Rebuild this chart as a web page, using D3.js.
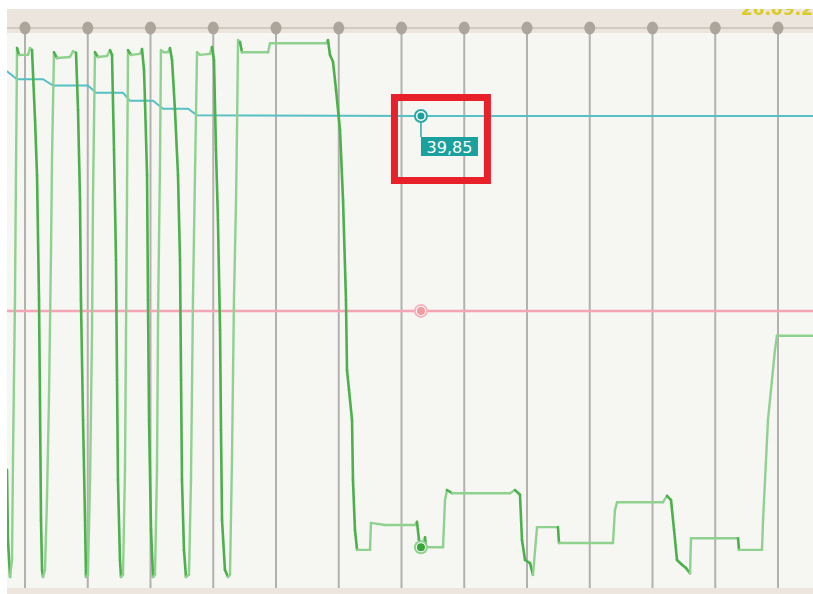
<!DOCTYPE html>
<html lang="en">
    <head>
        <meta charset="utf-8">
        <title>Trend</title>
        <script src="https://d3js.org/d3.v7.min.js"></script>
        <style>
            body { margin: 0; background: #fff; }
        </style>
    </head>
    <body>
        <div id="chart"></div>
        <script>
            // time in minutes from the first hour mark
            var hourTicks = d3.range(0, 721, 60);
            var dateLabel = "26.09.2023";
            var cursorTime = 378.6;

            var cyanSeries = [
                [-17.2, 40.41], [-7.6, 40.31], [17.2, 40.31], [26.8, 40.23], [60.2, 40.23],
                [67.9, 40.14], [93.7, 40.14], [100.4, 40.04], [122.4, 40.04], [132.0, 39.94],
                [155.9, 39.94], [164.5, 39.86], [378.6, 39.85], [753.5, 39.85]
            ];

            var pinkSeries = [[-17.2, 50.4], [753.5, 50.4]];

            var greenSeries = [
                [-17.2, 20.4], [-16.3, 7.2], [-14.3, 0.2], [-12.4, 3.4], [-11.5, 22.3], [-9.6, 52.5],
                [-8.6, 77.0], [-7.6, 100.0], [-5.7, 98.7], [2.9, 98.7], [4.8, 100.0], [6.7, 99.6],
                [9.6, 86.4], [11.5, 76.0], [13.4, 52.5], [14.3, 33.6], [15.3, 10.9], [16.3, 1.5],
                [17.2, 0.2], [19.1, 1.5], [21.0, 14.7], [22.9, 33.6], [24.9, 61.9], [25.8, 78.9],
                [27.7, 99.2], [30.6, 98.1], [43.0, 98.3], [45.9, 99.4], [48.8, 99.1], [50.7, 88.3],
                [52.6, 71.3], [53.5, 52.5], [55.5, 29.8], [57.4, 10.9], [58.3, 0.2], [60.2, 0.6],
                [62.2, 18.5], [64.1, 46.8], [65.0, 71.3], [66.9, 99.2], [69.8, 98.3], [78.4, 98.5],
                [81.3, 99.6], [83.2, 98.7], [85.1, 80.8], [87.0, 60.0], [88.0, 37.4], [88.9, 18.5],
                [90.8, 3.4], [91.8, 0.2], [93.7, 0.6], [95.6, 20.4], [96.6, 46.8], [97.5, 71.3],
                [98.5, 99.6], [101.4, 98.7], [110.0, 98.9], [111.9, 99.8], [113.8, 95.8], [114.7, 90.2],
                [116.7, 76.0], [117.6, 52.5], [118.6, 29.8], [120.5, 9.1], [122.4, 0.2], [124.3, 0.6],
                [126.2, 20.4], [127.2, 48.7], [129.1, 78.9], [130.0, 99.6], [132.9, 99.2], [136.7, 99.2],
                [138.6, 100.0], [140.6, 97.7], [143.4, 88.3], [146.3, 76.0], [148.2, 60.0], [149.2, 37.4],
                [150.1, 18.5], [152.0, 5.3], [153.9, 0.2], [156.8, 0.6], [158.7, 18.5], [160.6, 52.5],
                [162.6, 77.0], [164.5, 99.2], [167.3, 98.7], [176.9, 98.9], [178.8, 100.2], [180.7, 97.7],
                [182.6, 80.8], [184.5, 67.5], [186.5, 46.8], [187.4, 27.9], [188.4, 10.9], [191.2, 1.5],
                [194.1, 0.2], [196.0, 0.6], [197.9, 22.3], [199.8, 52.5], [201.8, 71.3], [202.7, 84.5],
                [203.7, 101.5], [205.6, 101.1], [207.5, 99.2], [232.4, 99.2], [234.3, 100.9], [287.8, 100.9],
                [289.7, 101.5], [291.6, 98.7], [294.5, 97.4], [297.4, 92.1], [301.2, 84.5], [304.1, 71.3],
                [306.9, 52.5], [307.9, 39.2], [309.8, 35.5], [312.7, 29.8], [313.6, 18.5], [315.5, 9.1],
                [317.5, 5.3], [329.9, 5.3], [330.8, 10.4], [344.2, 10.0], [372.9, 10.0], [374.8, 10.6],
                [376.7, 7.2], [378.6, 5.8], [382.5, 7.7], [383.4, 5.8], [399.7, 5.8], [401.6, 14.7],
                [403.5, 16.6], [408.3, 16.0], [463.7, 16.0], [468.5, 16.6], [473.3, 15.7], [475.2, 7.2],
                [478.1, 3.4], [482.9, 2.8], [485.7, 0.6], [489.6, 9.6], [509.6, 9.6], [510.6, 6.6],
                [562.2, 6.6], [564.1, 12.8], [566.1, 14.3], [610.0, 14.3], [613.9, 15.5], [617.7, 14.7],
                [620.6, 9.1], [623.4, 3.4], [628.2, 2.5], [632.0, 1.9], [635.9, 0.9], [636.8, 7.5],
                [681.8, 7.5], [682.7, 5.3], [704.7, 5.3], [705.7, 10.9], [707.6, 18.5], [710.4, 29.8],
                [713.3, 35.5], [715.2, 39.2], [717.1, 43.0], [719.0, 45.7], [753.5, 45.7]
            ];

            var width = 813, height = 594;
            var plot = {left: 7, top: 9, right: 813, bottom: 594},
                bandBottom = 33,
                markerRow = 28,
                floor = 588;

            var svg = d3.select("#chart")
                        .append("svg")
                        .attr("width", width)
                        .attr("height", height)
                        .style("display", "block");

            var x = d3.scaleLinear().domain([0, 720]).range([25, 778]);
            var y = d3.scaleLinear().domain([0, 100]).range([578, 48]);
            var yCyan = d3.scaleLinear().domain([39.85, 40.45]).range([116, 68]);

            svg.append("defs").append("clipPath").attr("id", "plotClip")
               .append("rect")
               .attr("x", plot.left).attr("y", bandBottom)
               .attr("width", plot.right - plot.left).attr("height", floor - bandBottom);
            svg.select("defs").append("clipPath").attr("id", "topClip")
               .append("rect")
               .attr("x", plot.left).attr("y", plot.top)
               .attr("width", plot.right - plot.left).attr("height", bandBottom - plot.top);

            // backgrounds
            svg.append("rect").attr("x", plot.left).attr("y", plot.top)
               .attr("width", plot.right - plot.left).attr("height", bandBottom - plot.top)
               .attr("fill", "#ece5dd");
            svg.append("rect").attr("x", plot.left).attr("y", bandBottom)
               .attr("width", plot.right - plot.left).attr("height", floor - bandBottom)
               .attr("fill", "#f6f6f2");
            svg.append("rect").attr("x", plot.left).attr("y", floor)
               .attr("width", plot.right - plot.left).attr("height", plot.bottom - floor)
               .attr("fill", "#ece6de");

            svg.append("text")
               .attr("clip-path", "url(#topClip)")
               .attr("x", x(0) + 716)
               .attr("y", 15)
               .attr("font-family", "DejaVu Sans")
               .attr("font-weight", "bold")
               .attr("font-size", 17)
               .attr("fill", "#d8cc2c")
               .text(dateLabel);

            // hour grid
            svg.append("line")
               .attr("x1", plot.left).attr("x2", plot.right)
               .attr("y1", markerRow).attr("y2", markerRow)
               .attr("stroke", "#d2cac0").attr("stroke-width", 2);

            svg.selectAll(".grid")
               .data(hourTicks).enter()
               .append("line")
               .attr("class", "grid")
               .attr("x1", function(d) { return x(d); })
               .attr("x2", function(d) { return x(d); })
               .attr("y1", markerRow).attr("y2", floor)
               .attr("stroke", "#b2b1ae").attr("stroke-width", 2);

            svg.selectAll(".hourMark")
               .data(hourTicks).enter()
               .append("ellipse")
               .attr("class", "hourMark")
               .attr("cx", function(d) { return x(d); })
               .attr("cy", markerRow)
               .attr("rx", 5.5).attr("ry", 6.5)
               .attr("fill", "#aca59c");

            var g = svg.append("g").attr("clip-path", "url(#plotClip)");

            var line = d3.line()
                         .x(function(d) { return x(d[0]); });

            g.append("path")
             .datum(pinkSeries)
             .attr("d", line.y(function(d) { return y(d[1]); }))
             .attr("fill", "none")
             .attr("stroke", "#f4a5b6")
             .attr("stroke-width", 2.5);

            g.append("path")
             .datum(cyanSeries)
             .attr("d", d3.line()
                          .x(function(d) { return x(d[0]); })
                          .y(function(d) { return yCyan(d[1]); }))
             .attr("fill", "none")
             .attr("stroke", "#56c0c4")
             .attr("stroke-width", 2);

            // green: falling parts drawn darker than rising/flat parts
            var pairs = d3.pairs(greenSeries);
            g.selectAll(".greenSeg")
             .data(pairs).enter()
             .append("line")
             .attr("class", "greenSeg")
             .attr("x1", function(d) { return x(d[0][0]); })
             .attr("y1", function(d) { return y(d[0][1]); })
             .attr("x2", function(d) { return x(d[1][0]); })
             .attr("y2", function(d) { return y(d[1][1]); })
             .attr("stroke", function(d) { return d[1][1] < d[0][1] - 0.5 ? "#4cb04c" : "#8fd28f"; })
             .attr("stroke-width", function(d) { return d[1][1] < d[0][1] - 0.5 ? 2.6 : 2.4; })
             .attr("stroke-linecap", "round");

            // cursor values
            var bis = d3.bisector(function(d) { return d[0]; }).right;
            function valueAt(series, t) { return series[Math.max(0, bis(series, t) - 1)][1]; }

            var cx = x(cursorTime);
            var cyanVal = valueAt(cyanSeries, cursorTime),
                pinkVal = valueAt(pinkSeries, cursorTime),
                greenVal = valueAt(greenSeries, cursorTime);

            function marker(cy, outer, inner) {
                g.append("circle").attr("cx", cx).attr("cy", cy).attr("r", 7).attr("fill", outer);
                g.append("circle").attr("cx", cx).attr("cy", cy).attr("r", 5).attr("fill", "#fff");
                g.append("circle").attr("cx", cx).attr("cy", cy).attr("r", 4).attr("fill", inner);
            }
            marker(y(pinkVal), "#f8b3be", "#f59a9f");
            marker(y(greenVal), "#8fd28f", "#3aa63a");

            var cyY = yCyan(cyanVal);
            g.append("line")
             .attr("x1", cx).attr("x2", cx)
             .attr("y1", cyY).attr("y2", cyY + 21)
             .attr("stroke", "#2aa9a9").attr("stroke-width", 1.5);
            g.append("circle").attr("cx", cx).attr("cy", cyY).attr("r", 6)
             .attr("fill", "#fff").attr("stroke", "#2aa9a9").attr("stroke-width", 2);
            g.append("circle").attr("cx", cx).attr("cy", cyY).attr("r", 3.5).attr("fill", "#1f9c9c");

            var fmt = d3.formatLocale({decimal: ",", thousands: ".", grouping: [3], currency: ["", " €"]}).format(".2f");
            g.append("rect")
             .attr("x", cx).attr("y", cyY + 21)
             .attr("width", 57).attr("height", 19)
             .attr("fill", "#1aa09d");
            g.append("text")
             .attr("x", cx + 28.5).attr("y", cyY + 37)
             .attr("text-anchor", "middle")
             .attr("font-family", "DejaVu Sans")
             .attr("font-size", 16)
             .attr("fill", "#fff")
             .text(fmt(cyanVal));

            // highlight box
            svg.append("rect")
               .attr("x", cx - 26.5).attr("y", cyY - 18.5)
               .attr("width", 93).attr("height", 83)
               .attr("fill", "none")
               .attr("stroke", "#e8202a")
               .attr("stroke-width", 7);
        </script>
    </body>
</html>
